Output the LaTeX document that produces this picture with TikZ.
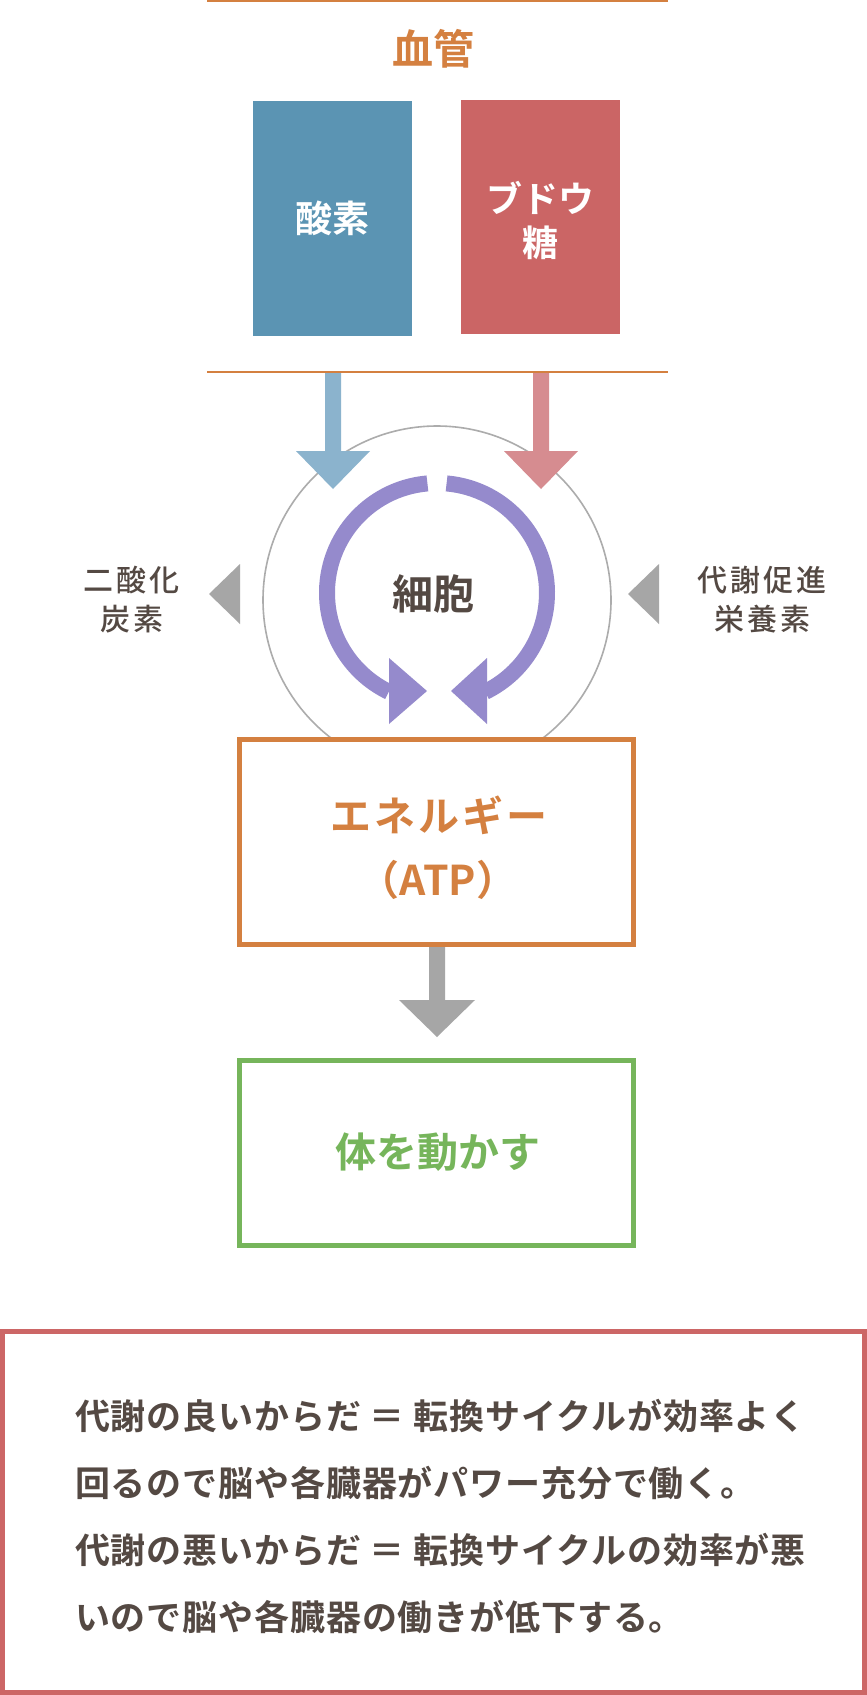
\documentclass[tikz,border=0pt]{standalone}
\usepackage{fontspec}
\usetikzlibrary{calc}
\IfFontExistsTF{Noto Sans CJK JP Bold}{\newfontfamily\jpb{Noto Sans CJK JP Bold}}{\newfontfamily\jpb{Noto Sans CJK JP}[FakeBold=2]}
\IfFontExistsTF{Noto Sans CJK JP Medium}{\newfontfamily\jpm{Noto Sans CJK JP Medium}}{\newfontfamily\jpm{Noto Sans CJK JP}[FakeBold=1]}
\definecolor{cOrange}{RGB}{212,128,64}
\definecolor{cBlue}{RGB}{91,148,179}
\definecolor{cRed}{RGB}{203,101,101}
\definecolor{cLBlue}{RGB}{139,179,205}
\definecolor{cLRed}{RGB}{214,140,144}
\definecolor{cPurple}{RGB}{149,138,204}
\definecolor{cGray}{RGB}{166,166,166}
\definecolor{cCircle}{RGB}{172,172,172}
\definecolor{cGreen}{RGB}{118,181,91}
\definecolor{cBox}{RGB}{204,102,102}
\definecolor{cText}{RGB}{84,73,67}
\begin{document}
\begin{tikzpicture}[x=1pt,y=-1pt,
  lbl/.style={inner sep=0pt, outer sep=0pt, anchor=center},
  title/.style={lbl, font=\jpb\fontsize{41}{41}\selectfont},
  side/.style={lbl, text=cText, font=\jpm\fontsize{30}{30}\selectfont\addfontfeature{LetterSpace=10}},
  body/.style={lbl, anchor=west, text=cText, font=\jpb\fontsize{35}{35}\selectfont\addfontfeature{LetterSpace=2.5}},
  frame/.style={draw, line width=5pt, fill=white, inner sep=0pt, outer sep=0pt},
  solidbox/.style={inner sep=0pt, outer sep=0pt},
  tri/.style={fill=cGray}]
\useasboundingbox (0,0) rectangle (867,1695);
\fill[white] (0,0) rectangle (867,1695);

% vessel lines and title
\draw[cOrange, line width=2.4pt] (207,1.2) coordinate (tl) -- (668,1.2) coordinate (tr);
\node[title, text=cOrange] (vessel) at (433,49) {血管};

% substance boxes
\node[solidbox, fill=cBlue, minimum width=159pt, minimum height=235pt] (oxy) at (332.5,218.5) {};
\node[title, text=white, font=\jpb\fontsize{37}{37}\selectfont] (oxyt) at (oxy.center) {酸素};
\node[solidbox, fill=cRed, minimum width=159pt, minimum height=234pt] (glu) at (540.5,217) {};
\node[title, text=white, font=\jpb\fontsize{36}{36}\selectfont] (glut1) at (540,198) {ブドウ};
\node[title, text=white, font=\jpb\fontsize{36}{36}\selectfont] (glut2) at (540,243) {糖};

% cell circle
\coordinate (cc) at (437,600);
\draw[cCircle, line width=1.6pt] (cc) circle[radius=174];

% block arrows into the cell
\coordinate (ba) at (333,373);
\fill[cLBlue] (ba) ++(-8,0) -- ++(16,0) -- ++(0,78) -- ++(29,0) -- ++(-37,38) -- ++(-37,-38) -- ++(29,0) -- cycle;
\coordinate (ra) at (541,373);
\fill[cLRed] (ra) ++(-8,0) -- ++(16,0) -- ++(0,78) -- ++(29,0) -- ++(-37,38) -- ++(-37,-38) -- ++(29,0) -- cycle;

\draw[cOrange, line width=2.4pt] (207,372) coordinate (bl) -- (668,372) coordinate (br);

% purple cycle
\coordinate (pc) at (437,593);
\draw[cPurple, line width=16pt] ($(pc)+(265:110)$) arc[start angle=265, end angle=116, radius=110];
\draw[cPurple, line width=16pt] ($(pc)+(275:110)$) arc[start angle=275, end angle=424, radius=110];
\fill[cPurple] (389,658) -- (389,724) -- (427,691) -- cycle;
\fill[cPurple] (487,658) -- (487,724) -- (451,691) -- cycle;
\node[title, text=cText] (cell) at (433,594) {細胞};

% side arrows and labels
\fill[tri] (240,564) -- (240,624) -- (209,594) -- cycle;
\fill[tri] (659,564) -- (659,624) -- (628,594) -- cycle;
\node[side] (co2a) at (131,580) {二酸化};
\node[side] (co2b) at (132,619) {炭素};
\node[side] (nuta) at (762,580) {代謝促進};
\node[side] (nutb) at (762,619) {栄養素};

% energy box
\node[frame, draw=cOrange, minimum width=394pt, minimum height=205pt] (energy) at (436.5,842) {};
\node[title, text=cOrange, font=\jpb\fontsize{41}{41}\selectfont\addfontfeature{LetterSpace=7}] (en1) at (439,815) {エネルギー};
\node[title, text=cOrange] (en2) at (438,880) {（ATP）};

% arrow to body
\coordinate (ga) at (437,947);
\fill[cGray] (ga) ++(-8,0) -- ++(16,0) -- ++(0,53) -- ++(30,0) -- ++(-38,37) -- ++(-38,-37) -- ++(30,0) -- cycle;

% body box
\node[frame, draw=cGreen, minimum width=394pt, minimum height=185pt] (body) at (436.5,1153) {};
\node[title, text=cGreen] (bodyt) at (438,1152) {体を動かす};

% explanation box
\node[frame, draw=cBox, minimum width=862pt, minimum height=361pt] (note) at (433.5,1512) {};
\node[body] (l1) at (75,1416) {代謝の良いからだ ＝ 転換サイクルが効率よく};
\node[body] (l2) at (75,1483) {回るので脳や各臓器がパワー充分で働く。};
\node[body] (l3) at (75,1550) {代謝の悪いからだ ＝ 転換サイクルの効率が悪};
\node[body] (l4) at (75,1617) {いので脳や各臓器の働きが低下する。};
\end{tikzpicture}
\end{document}
